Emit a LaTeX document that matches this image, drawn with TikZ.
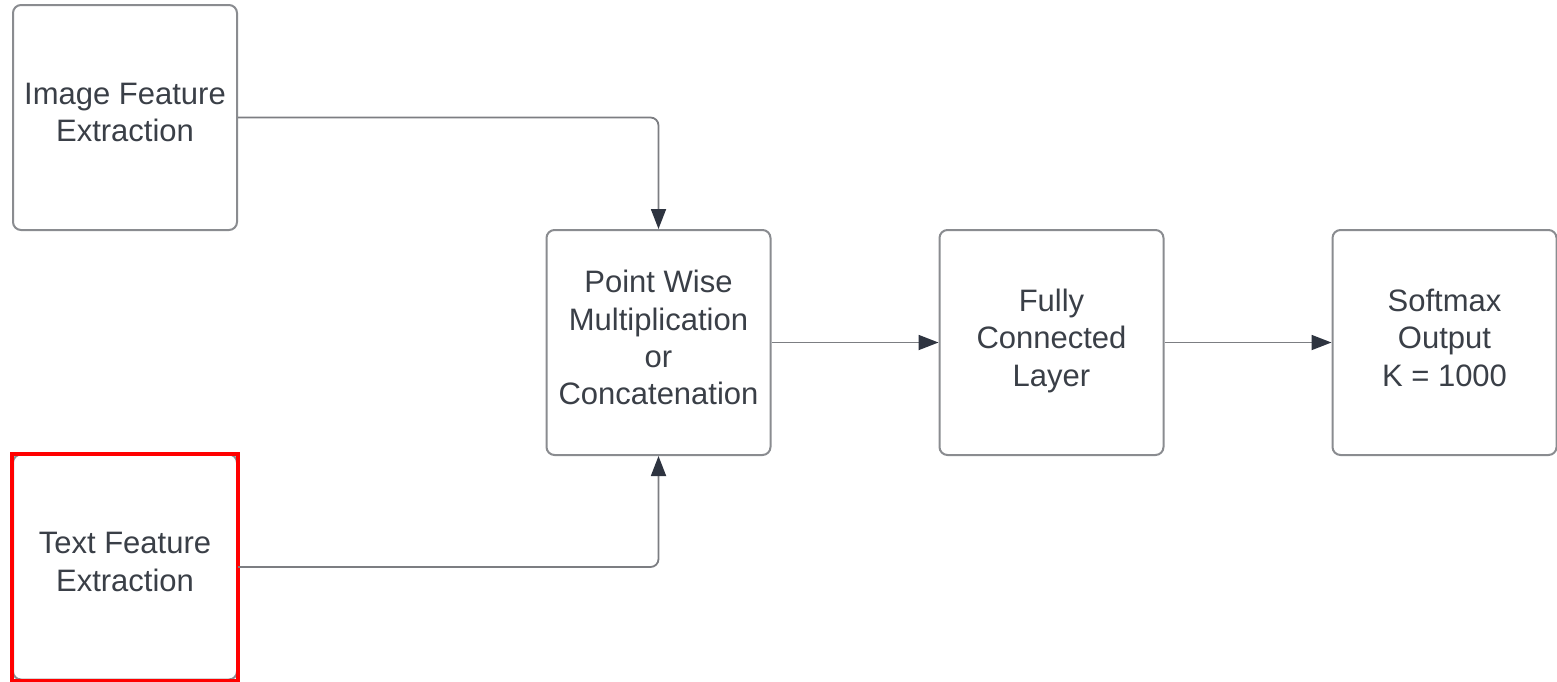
\documentclass[tikz,border=0pt]{standalone}
\usepackage{fontspec}
\setmainfont{Liberation Sans}
\usetikzlibrary{arrows.meta,fit}
\definecolor{boxline}{HTML}{8A8C90}
\definecolor{wire}{HTML}{7C7E82}
\definecolor{tip}{HTML}{2E3440}
\definecolor{label}{HTML}{3A3F47}
\begin{document}
\begin{tikzpicture}[x=0.5pt,y=-0.5pt,
  block/.style={draw=boxline, line width=1pt, rounded corners=4pt, fill=white,
    minimum width=112pt, minimum height=112.5pt, inner sep=0pt, text depth=5pt,
    align=center, text=label, font=\fontsize{15.5pt}{18.7pt}\selectfont},
  flow/.style={draw=wire, line width=0.9pt, rounded corners=4pt,
    -{Triangle[length=10pt,width=7.5pt,color=tip]}},
  highlight/.style={draw=red, line width=2pt, inner sep=0pt}]
  \useasboundingbox (0,0) rectangle (1557,681);

  % input branches
  \node[block] (img) at (125,117.5) {Image Feature\\Extraction};
  \node[block] (txt) at (125,567) {Text Feature\\Extraction};
  \node[highlight, fit=(txt)] (hl) {};

  % processing chain
  \node[block] (mul) at (658.5,342.5) {Point Wise\\Multiplication\\or\\Concatenation};
  \node[block] (fc) at (1051.5,342.5) {Fully\\Connected\\Layer};
  \node[block] (out) at (1444.5,342.5) {Softmax\\Output\\K = 1000};

  % connectors
  \draw[flow] (img.east) -| (mul.north);
  \draw[flow] (txt.east) -| (mul.south);
  \draw[flow] (mul) -- (fc);
  \draw[flow] (fc) -- (out);
\end{tikzpicture}
\end{document}
